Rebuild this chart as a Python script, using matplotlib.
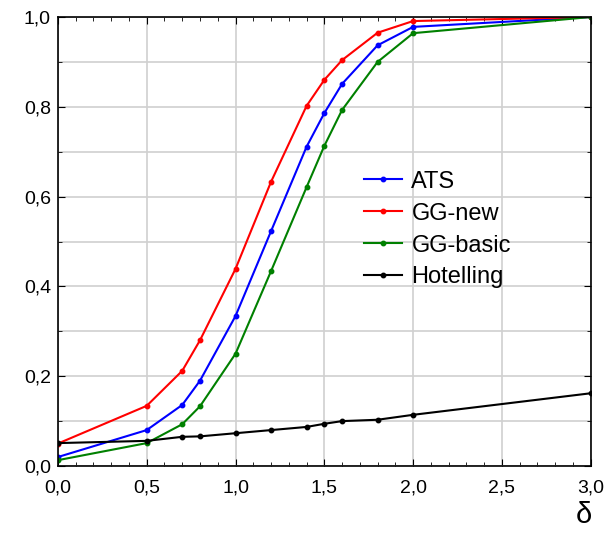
import matplotlib.pyplot as plt
from matplotlib.ticker import MultipleLocator, FuncFormatter

# Power curves vs. shift delta
delta = [0.0, 0.5, 0.7, 0.8, 1.0, 1.2, 1.4, 1.5, 1.6, 1.8, 2.0, 3.0]
ats = [0.020, 0.080, 0.136, 0.190, 0.334, 0.523, 0.711, 0.786, 0.851, 0.937, 0.978, 1.0]
gg_new = [0.050, 0.134, 0.212, 0.280, 0.439, 0.633, 0.802, 0.860, 0.904, 0.965, 0.991, 1.0]
gg_basic = [0.013, 0.051, 0.093, 0.133, 0.250, 0.434, 0.621, 0.713, 0.793, 0.900, 0.964, 1.0]
hotelling = [0.051, 0.056, 0.065, 0.066, 0.073, 0.080, 0.087, 0.094, 0.100, 0.103, 0.114, 0.162]

plt.rcParams['font.family'] = ['Liberation Sans', 'DejaVu Sans']

fig = plt.figure(figsize=(6.16, 5.33), dpi=100)
ax = fig.add_axes([0.094, 0.1257, 0.865, 0.8424])

series = [('ATS', ats, '#0000ff'), ('GG-new', gg_new, '#ff0000'),
          ('GG-basic', gg_basic, '#008000'), ('Hotelling', hotelling, '#000000')]
for name, vals, col in series:
    ax.plot(delta, vals, color=col, lw=1.5, marker='o', ms=3.2, label=name)

ax.set_xlim(0, 3)
ax.set_ylim(0, 1)
ax.xaxis.set_major_locator(MultipleLocator(0.5))
ax.xaxis.set_minor_locator(MultipleLocator(0.1))
ax.yaxis.set_major_locator(MultipleLocator(0.2))
ax.yaxis.set_minor_locator(MultipleLocator(0.1))
comma = FuncFormatter(lambda v, p: f'{v:.1f}'.replace('.', ','))
ax.xaxis.set_major_formatter(comma)
ax.yaxis.set_major_formatter(comma)
ax.tick_params(which='both', direction='in', top=True, right=True, labelsize=14)
ax.tick_params(which='major', length=5)
ax.tick_params(which='minor', length=3)
ax.tick_params(axis='x', pad=10)
ax.tick_params(axis='y', pad=5)
ax.grid(True, which='major', color='#d0d0d0', lw=1.2)
ax.grid(True, which='minor', axis='y', color='#d0d0d0', lw=1.2)
ax.set_axisbelow(True)
for s in ax.spines.values():
    s.set_linewidth(1.2)

ax.legend(loc='upper left', bbox_to_anchor=(0.535, 0.705), frameon=False,
          fontsize=17, handlelength=1.6, labelspacing=0.42, handletextpad=0.4)

fig.text(0.935, 0.018, 'δ', fontsize=21)

fig.savefig('out.png', dpi=100)
